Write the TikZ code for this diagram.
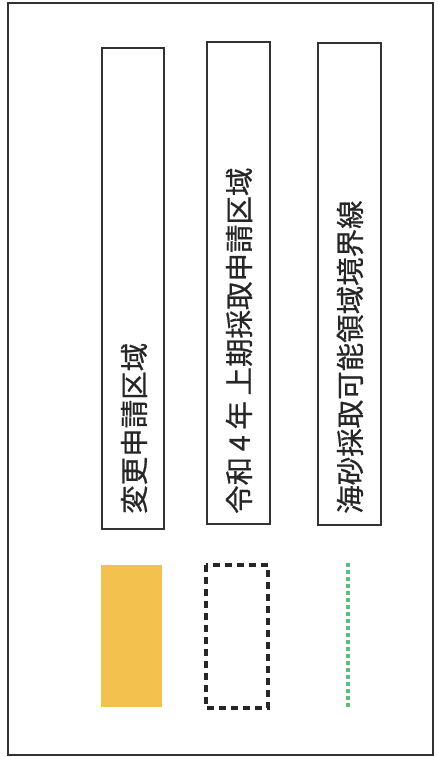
\documentclass[tikz,border=0pt]{standalone}
\usepackage{fontspec}
\newfontfamily\cjk[FakeBold=0.6]{Noto Sans CJK JP}
\definecolor{legyellow}{RGB}{242,193,78}
\definecolor{leggreen}{RGB}{92,190,122}
\definecolor{legline}{RGB}{50,50,50}
\tikzset{
  labelbox/.style={draw=legline, line width=2.8bp},
  labeltext/.style={rotate=90, anchor=west, inner sep=0pt, font=\cjk\fontsize{28.6}{28.6}\selectfont, text=black!85},
}
\begin{document}
\begin{tikzpicture}[x=1bp,y=-1bp]
\useasboundingbox (0,0) rectangle (438,757);
\draw[draw=legline, line width=2.6bp] (8,3) rectangle (433,755);
% label boxes
\draw[labelbox] (102,48) rectangle (164,529);
\draw[labelbox] (207,42) rectangle (270,524);
\draw[labelbox] (318,43) rectangle (381,525);
% texts
\node[labeltext] (t1) at (134,514) {変更申請区域};
\node[labeltext] (t2) at (239,514) {令和\hspace{0.2em}4\hspace{0.2em}年\hspace{0.2em}上期採取申請区域};
\node[labeltext] (t3) at (350,514) {海砂採取可能領域境界線};
% symbols
\fill[legyellow] (101,565) rectangle (162,707);
\draw[black!85, line width=3.2bp, dash pattern=on 7bp off 5bp] (206,565) rectangle (268,708);
\draw[leggreen, line width=3.8bp, dash pattern=on 3.5bp off 3.5bp] (348,563) -- (348,709);
\end{tikzpicture}
\end{document}
